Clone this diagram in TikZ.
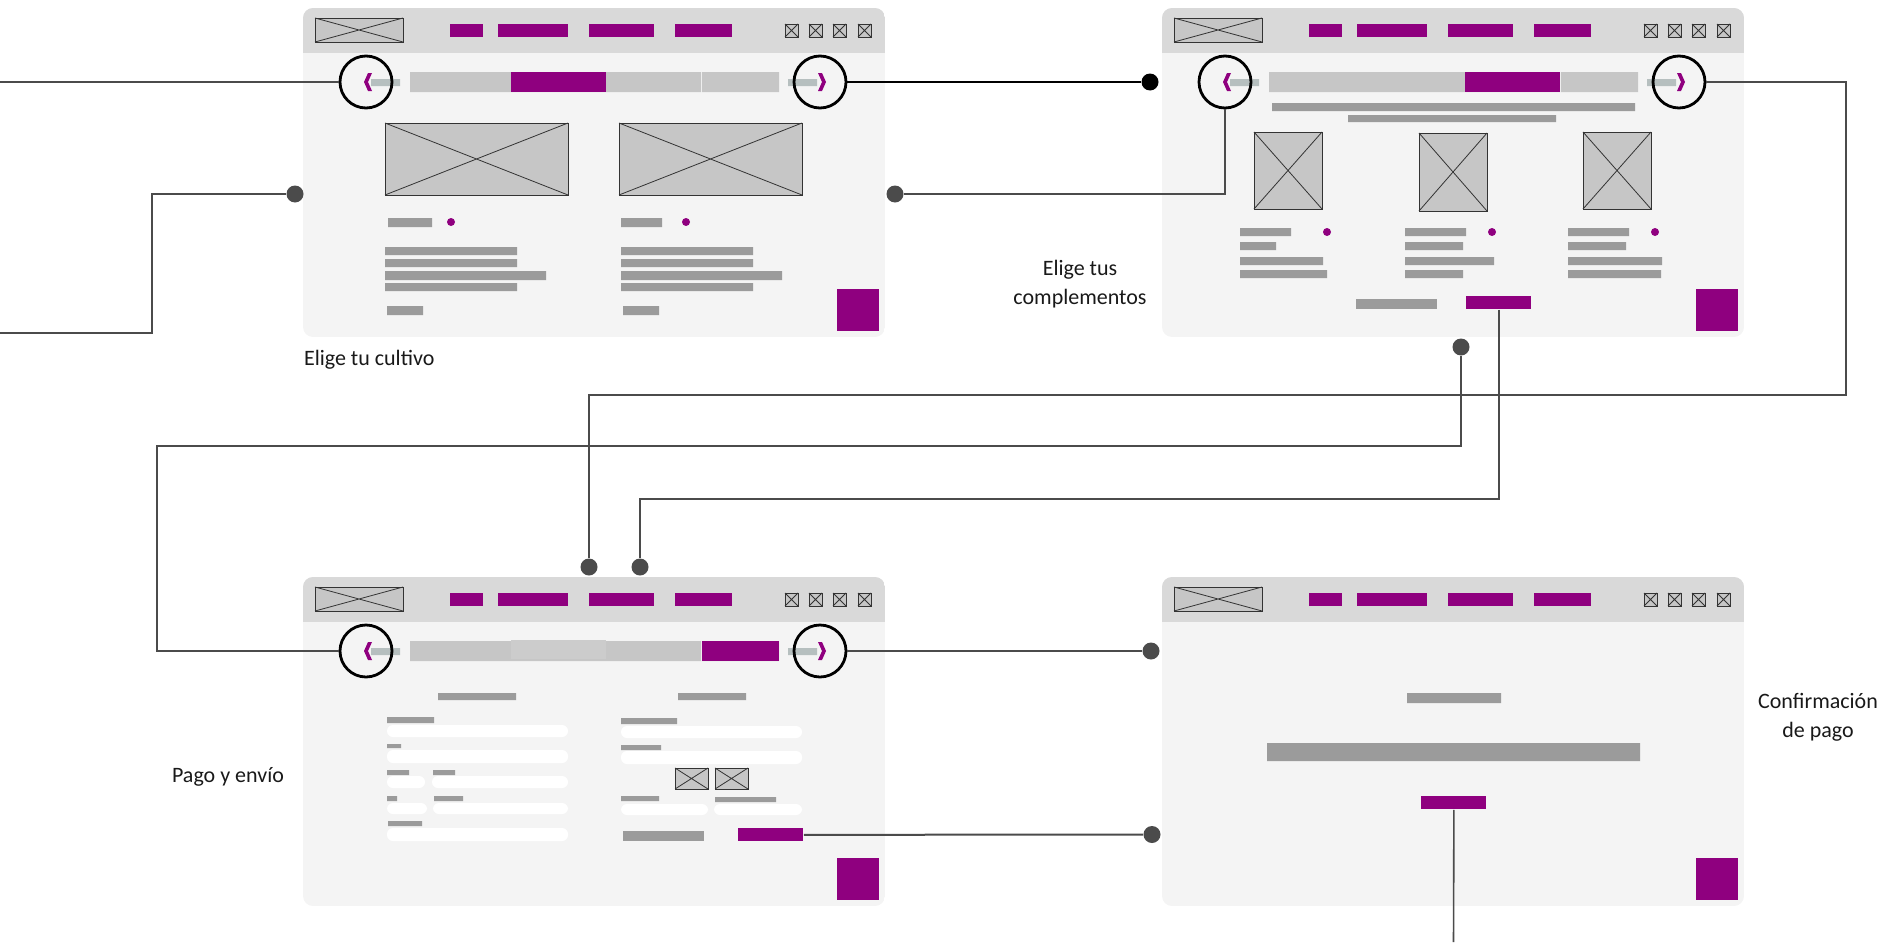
\documentclass[tikz,border=0pt]{standalone}
\usepackage{fontspec}
\setmainfont{Carlito}
\usepackage{tikz}
\usetikzlibrary{positioning,calc}
\definecolor{morado}{HTML}{8F007F}
\definecolor{cuerpo}{HTML}{F4F4F4}
\definecolor{cabecera}{HTML}{D9D9D9}
\definecolor{grisbarra}{HTML}{9B9B9B}
\definecolor{grisclaro}{HTML}{C6C6C6}
\definecolor{grisazul}{HTML}{B6BFBF}
\definecolor{linea}{HTML}{4B4B4B}

% caja con aspa (imagen de relleno)
\newcommand{\caja}[4]{%
  \draw[imagen] (#1,#2) rectangle (#3,#4);
  \draw[aspa] (#1,#2) -- (#3,#4) (#1,#4) -- (#3,#2);}

% marco del navegador
\newcommand{\ventana}{%
  \begin{scope}
    \clip[rounded corners=5pt] (0,0) rectangle (582,329);
    \fill[cuerpo] (0,0) rectangle (582,329);
    \fill[cabecera] (0,0) rectangle (582,45);
  \end{scope}
  \caja{12}{10}{100}{34}
  \foreach \a/\b in {147/180,195/265,286/351,372/429}
    \fill[morado] (\a,16) rectangle (\b,29);
  \foreach \a in {482,506,530,555}
    \caja{\a}{16}{\a+13}{29}
  \fill[morado] (534,281) rectangle (576,323);}

% barra de pasos con flechas
\newcommand{\navegar}[1]{%
  \fill[grisclaro] (107,64) rectangle (398,84) (399,64) rectangle (476,84);
  \fill[grisazul] (68,71) rectangle (97,78) (485,71) rectangle (514,78);
  \fill[morado] (65,65) -- (69,65) -- (65,74) -- (69,83) -- (65,83) -- (61,74) -- cycle;
  \fill[morado] (515,65) -- (519,65) -- (523,74) -- (519,83) -- (515,83) -- (519,74) -- cycle;
  \node[flecha] (#1ant) at (63,74) {};
  \node[flecha] (#1sig) at (517,74) {};}

\begin{document}
\begin{tikzpicture}[
  x=0.5pt,y=-0.5pt,
  imagen/.style={draw=black!80,fill=grisclaro,line width=0.5pt},
  aspa/.style={draw=black!80,line width=0.4pt},
  flecha/.style={circle,draw=black,line width=1.4pt,minimum size=26pt,inner sep=0pt},
  punto/.style={circle,fill=linea,minimum size=8.5pt,inner sep=0pt},
  puntonegro/.style={punto,fill=black},
  boton/.style={fill=morado,inner sep=0pt,anchor=north west,minimum width=32.5pt,minimum height=6.5pt},
  campo/.style={fill=white,rounded corners=3pt},
  conector/.style={draw=linea,line width=1pt},
  rotulo/.style={font=\fontsize{11}{14.5}\selectfont,align=center,text=black!90}
]
\useasboundingbox (0,0) rectangle (1900,942);

% ventana 1: cultivo
\begin{scope}[shift={(303,8)}]
  \ventana
  \navegar{c1}
  \fill[morado] (208,64) rectangle (303,84);
  \caja{82}{115}{265}{187}
  \caja{316}{115}{499}{187}
  \fill[grisbarra] (85,210) rectangle (129,219) (318,210) rectangle (359,219);
  \fill[morado] (148,214) circle (2pt) (383,214) circle (2pt);
  \foreach \a in {82,318}{
    \fill[grisbarra] (\a,239) rectangle (\a+132,247) (\a,251) rectangle (\a+132,259)
      (\a,263) rectangle (\a+161,272) (\a,275) rectangle (\a+132,283)
      (\a+2,298) rectangle (\a+38,307);
  }
\end{scope}

% ventana 2: complementos
\begin{scope}[shift={(1162,8)}]
  \ventana
  \navegar{c2}
  \fill[morado] (303,64) rectangle (398,84);
  \fill[grisbarra] (110,95) rectangle (473,103) (186,107) rectangle (394,114);
  \caja{92}{124}{160}{201}
  \caja{257}{125}{325}{203}
  \caja{421}{124}{489}{201}
  \foreach \a/\w/\p/\q/\r in {78/51/36/83/87,243/61/58/89/58,406/61/58/94/93}{
    \fill[grisbarra] (\a,220) rectangle (\a+\w,228) (\a,234) rectangle (\a+\p,242)
      (\a,249) rectangle (\a+\q,257) (\a,262) rectangle (\a+\r,270);
    \fill[morado] (\a+87,224) circle (2pt);
  }
  \fill[grisbarra] (194,291) rectangle (275,301);
  \node[boton] (b2) at (304,288) {};
\end{scope}

% ventana 3: pago y envio
\begin{scope}[shift={(303,577)}]
  \ventana
  \navegar{c3}
  \fill[grisclaro!90] (208,63) rectangle (303,82);
  \fill[morado] (399,64) rectangle (476,84);
  % formulario
  \fill[grisbarra] (135,116) rectangle (213,123) (375,116) rectangle (443,123);
  \fill[grisbarra] (84,140) rectangle (131,146) (84,167) rectangle (98,171)
    (84,193) rectangle (106,198) (130,193) rectangle (152,198)
    (84,219) rectangle (94,224) (131,219) rectangle (160,224)
    (85,244) rectangle (119,249);
  \fill[campo] (84,148) rectangle (265,160);
  \fill[campo] (84,173) rectangle (265,186);
  \fill[campo] (84,199) rectangle (122,211);
  \fill[campo] (129,199) rectangle (265,211);
  \fill[campo] (84,226) rectangle (124,237);
  \fill[campo] (130,226) rectangle (265,237);
  \fill[campo] (84,251) rectangle (265,264);
  \fill[grisbarra] (318,141) rectangle (374,147) (318,168) rectangle (358,173)
    (318,219) rectangle (356,224) (412,220) rectangle (473,225);
  \fill[campo] (318,149) rectangle (499,161);
  \fill[campo] (318,174) rectangle (499,187);
  \fill[campo] (318,227) rectangle (405,238);
  \fill[campo] (411,227) rectangle (499,238);
  \caja{372}{191}{405}{212}
  \caja{412}{191}{445}{212}
  \fill[grisbarra] (320,254) rectangle (401,264);
  \node[boton] (b3) at (435,251) {};
\end{scope}

% ventana 4: confirmacion
\begin{scope}[shift={(1162,577)}]
  \ventana
  \fill[grisbarra] (245,116) rectangle (339,126) (105,166) rectangle (478,184);
  \node[boton] (b4) at (259,219) {};
\end{scope}

% puntos de union
\node[punto] (p1izq) at (295,194) {};
\node[punto] (p1der) at (895,194) {};
\node[puntonegro] (p2neg) at (1150,82) {};
\node[punto] (p2sur) at (1461,347) {};
\node[punto] (p3a) at (589,567) {};
\node[punto] (p3b) at (640,567) {};
\node[punto] (p4a) at (1151,651) {};
\node[punto] (p4b) at (1152,834.5) {};
\coordinate (entA) at (0,82);
\coordinate (entB) at (0,333);
\coordinate (finJ) at (1453.5,942);

% conectores
\draw[conector] (entA) -- (c1ant);
\draw[conector] (entB) -- ++(152,0) |- (p1izq);
\draw[conector,draw=black] (c1sig) -- (p2neg);
\draw[conector] (p1der) -| (c2ant);
\draw[conector] (c2sig) -| (1846,395) -| (p3a);
\draw[conector] (p2sur) |- (157,446) |- (c3ant);
\draw[conector] (b2.south) |- (640,499) -- (p3b);
\draw[conector] (c3sig) -- (p4a);
\draw[conector] (b3) -- (p4b);
\draw[conector,line width=0.8pt] (b4.south) -- (finJ);

% rotulos
\node[rotulo,anchor=west] (tcultivo) at (297,360) {Elige tu cultivo};
\node[rotulo] (tcomple) at (1080,284) {Elige tus\\complementos};
\node[rotulo] (tpago) at (228,777) {Pago y envío};
\node[rotulo] (tconfir) at (1818,717) {Confirmación\\de pago};
\end{tikzpicture}
\end{document}
